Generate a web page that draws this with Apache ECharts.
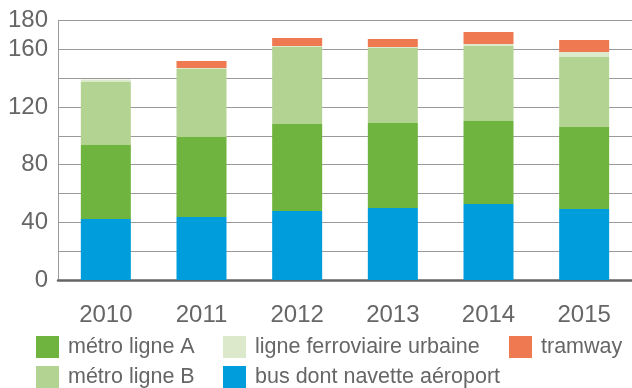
<!DOCTYPE html>
<html>
<head>
<meta charset="utf-8">
<script src="https://cdn.jsdelivr.net/npm/echarts@6/dist/echarts.min.js"></script>
<style>
  html, body { margin: 0; padding: 0; background: #fff; }
  #chart { width: 632px; height: 388px; }
</style>
</head>
<body>
<div id="chart"></div>
<script>
// Fréquentation annuelle (millions de voyages) par mode de transport
const years = ['2010', '2011', '2012', '2013', '2014', '2015'];
const bus = [42.3, 43.7, 47.9, 50.0, 52.8, 49.3];
const metroA = [51.4, 55.6, 60.4, 59.0, 57.6, 56.9];
const metroB = [44.0, 47.2, 53.4, 52.0, 52.0, 48.6];
const ferro = [1.4, 0.7, 0.7, 0.7, 1.4, 3.5];
const tramway = [0, 4.8, 5.6, 5.6, 8.3, 8.3];
const yTickLabels = [0, 40, 80, 120, 160, 180];

const labelGray = '#666666';
const axisFont = '"Liberation Sans", Arial, sans-serif';
const legendFont = '"Liberation Sans", Arial, sans-serif';

const colors = {
  'bus dont navette aéroport': '#009ddc',
  'métro ligne A': '#6eb43f',
  'métro ligne B': '#b3d393',
  'ligne ferroviaire urbaine': '#dceacb',
  'tramway': '#ef7a51'
};

function barSeries(name, data) {
  return {
    name: name,
    type: 'bar',
    stack: 'total',
    barWidth: 50,
    data: data,
    itemStyle: { color: colors[name] },
    emphasis: { disabled: true }
  };
}

function legendItem(name, left, top) {
  return {
    data: [name],
    left: left,
    top: top,
    padding: 0,
    itemWidth: 23,
    itemHeight: 22,
    icon: 'rect',
    selectedMode: false,
    textStyle: {
      color: labelGray,
      fontFamily: legendFont,
      fontSize: 21.5,
      padding: [0, 0, 0, 4]
    }
  };
}

const chart = echarts.init(document.getElementById('chart'), null, { renderer: 'canvas' });
chart.setOption({
  animation: false,
  grid: { left: 58, right: -5, top: 20.67, bottom: 108, containLabel: false },
  legend: [
    legendItem('métro ligne A', 36, 336),
    legendItem('ligne ferroviaire urbaine', 223, 336),
    legendItem('tramway', 509, 336),
    legendItem('métro ligne B', 36, 366),
    legendItem('bus dont navette aéroport', 223, 366)
  ],
  xAxis: {
    type: 'category',
    data: years,
    axisTick: { show: false },
    axisLine: { show: true, lineStyle: { color: '#666666', width: 2.5 } },
    axisLabel: {
      color: labelGray,
      fontFamily: axisFont,
      fontSize: 24,
      margin: 23
    }
  },
  yAxis: {
    type: 'value',
    min: 0,
    max: 180,
    interval: 20,
    axisLine: { show: true, lineStyle: { color: '#9a9a9a', width: 1 } },
    axisTick: { show: false },
    splitLine: { show: true, lineStyle: { color: '#9a9a9a', width: 1.2 } },
    axisLabel: {
      color: labelGray,
      fontFamily: axisFont,
      fontSize: 24,
      margin: 10,
      padding: [4, 0, 0, 0],
      formatter: function (v) {
        return yTickLabels.indexOf(v) >= 0 ? String(v) : '';
      }
    }
  },
  series: [
    barSeries('bus dont navette aéroport', bus),
    barSeries('métro ligne A', metroA),
    barSeries('métro ligne B', metroB),
    barSeries('ligne ferroviaire urbaine', ferro),
    barSeries('tramway', tramway)
  ]
});
</script>
</body>
</html>
